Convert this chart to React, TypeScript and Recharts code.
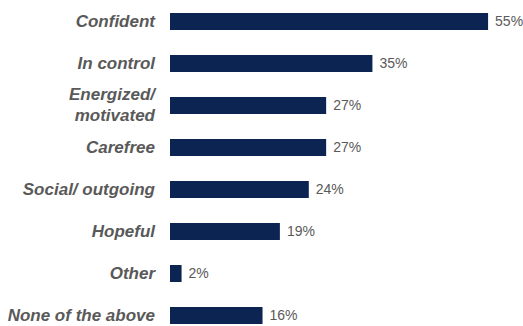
import { Bar, BarChart, LabelList, XAxis, YAxis } from "recharts";

const categories = [
  "Confident",
  "In control",
  "Energized/\nmotivated",
  "Carefree",
  "Social/ outgoing",
  "Hopeful",
  "Other",
  "None of the above",
];

const shares = [55, 35, 27, 27, 24, 19, 2, 16];

const data = categories.map((name, i) => ({ name, share: shares[i] }));

const FONT = '"Liberation Sans", Arial, sans-serif';
const NAVY = "#0b2452";
const GREY = "#595959";

function CategoryTick({ x, y, payload }: { x?: number; y?: number; payload?: { value: string } }) {
  const lines = String(payload?.value ?? "").split("\n");
  const lineHeight = 21;
  const start = -((lines.length - 1) * lineHeight) / 2;
  return (
    <text
      x={x}
      y={y}
      textAnchor="end"
      fill={GREY}
      fontFamily={FONT}
      fontSize={17}
      fontWeight="bold"
      fontStyle="italic"
    >
      {lines.map((line, i) => (
        <tspan key={line} x={x} dy={i === 0 ? start : lineHeight} dominantBaseline="central">
          {line}
        </tspan>
      ))}
    </text>
  );
}

export default function App() {
  return (
    <div style={{ position: "absolute", top: 0, left: 0, width: 523, height: 326, overflow: "hidden", background: "#fff" }}>
      <BarChart
        width={523}
        height={336}
        data={data}
        layout="vertical"
        margin={{ top: 0, right: 6, left: 0, bottom: 0 }}
      >
        <XAxis type="number" domain={[0, 60]} hide />
        <YAxis
          type="category"
          dataKey="name"
          width={170}
          axisLine={false}
          tickLine={false}
          tickSize={0}
          tickMargin={15}
          interval={0}
          tick={<CategoryTick />}
        />
        <Bar dataKey="share" fill={NAVY} barSize={17} isAnimationActive={false}>
          <LabelList
            dataKey="share"
            position="right"
            offset={7}
            formatter={(v: number) => `${v}%`}
            fill={GREY}
            fontSize={14}
            fontFamily={FONT}
          />
        </Bar>
      </BarChart>
    </div>
  );
}
